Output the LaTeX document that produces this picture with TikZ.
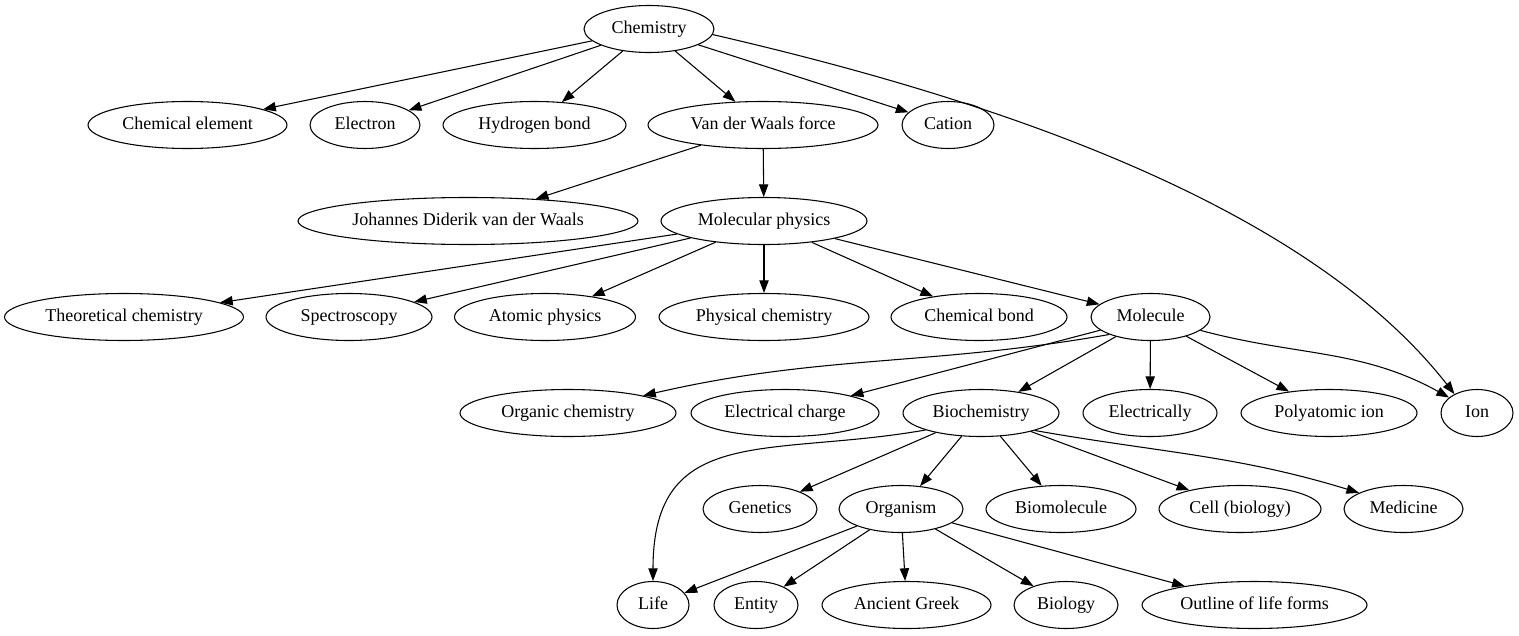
\documentclass[tikz,border=0pt]{standalone}
\usepackage{fontspec}
\setmainfont{Liberation Serif}
\usetikzlibrary{arrows.meta,shapes.geometric}

\tikzstyle{vertex}=[ellipse,draw=black,line width=0.8pt,inner sep=0pt,minimum height=47*0.75pt,text height=9.5pt,text depth=3pt,font=\fontsize{13.5}{16}\selectfont]
\tikzstyle{edge} = [draw,line width=0.8pt,-{Triangle[length=9.5pt,width=7pt]}]

\begin{document}
\begin{tikzpicture}[x=0.75pt,y=0.75pt]
\useasboundingbox (0,0) rectangle (1519,-635);
\foreach \pos/\name/\w/\text in {
  {(649,-29)/chem/130/Chemistry},
  {(187.5,-125)/elem/199/Chemical element}, {(365,-125)/electron/110/Electron},
  {(534.5,-125)/hbond/183/Hydrogen bond}, {(763,-125)/vdw/230/Van der Waals force},
  {(948,-125)/cation/92/Cation},
  {(468,-221)/waals/340/Johannes Diderik van der Waals}, {(764,-221)/molphys/206/Molecular physics},
  {(124,-317)/theochem/239/Theoretical chemistry}, {(349,-317)/spectro/166/Spectroscopy},
  {(545,-317)/atomic/181/Atomic physics}, {(764,-317)/physchem/210/Physical chemistry},
  {(979,-317)/bond/176/Chemical bond}, {(1150.5,-317)/molecule/119/Molecule},
  {(568,-413)/organic/216/Organic chemistry}, {(785,-413)/charge/188/Electrical charge},
  {(981,-413)/biochem/156/Biochemistry}, {(1150,-413)/electrically/134/Electrically},
  {(1329,-413)/polyion/176/Polyatomic ion}, {(1477,-413)/ion/72/Ion},
  {(760,-509)/genetics/114/Genetics}, {(901,-509)/organism/124/Organism},
  {(1061,-509)/biomol/150/Biomolecule}, {(1240,-509)/cell/162/Cell (biology)},
  {(1403.5,-509)/medicine/119/Medicine},
  {(653,-605)/life/72/Life}, {(756,-605)/entity/84/Entity},
  {(906.5,-605)/greek/169/Ancient Greek}, {(1066,-605)/biology/104/Biology},
  {(1254.5,-605)/outline/225/Outline of life forms}}
\node[vertex,minimum width=\w*0.75pt] (\name) at \pos {\text};
\foreach \source/\dest in {chem/elem, chem/electron, chem/hbond, chem/vdw, chem/cation,
  vdw/waals, vdw/molphys, molphys/theochem, molphys/spectro, molphys/atomic,
  molphys/physchem, molphys/bond, molphys/molecule, molecule/charge, molecule/biochem,
  molecule/electrically, molecule/polyion, biochem/genetics, biochem/organism,
  biochem/biomol, biochem/cell, organism/life, organism/entity, organism/greek,
  organism/biology, organism/outline}
\draw[edge] (\source) -- (\dest);
% curved ones
\draw[edge] (chem.355) to[out=347,in=128,looseness=.79] (ion.140);
\draw[edge] (molecule.345) to[out=345,in=151] (ion.151);
\draw[edge] (molecule.203) to[out=190,in=13] (organic.13);
\draw[edge] (biochem.197) to[out=190,in=90,looseness=1.3] (life);
\draw[edge] (biochem.342) to[out=-10,in=163] (medicine.160);
\end{tikzpicture}
\end{document}
